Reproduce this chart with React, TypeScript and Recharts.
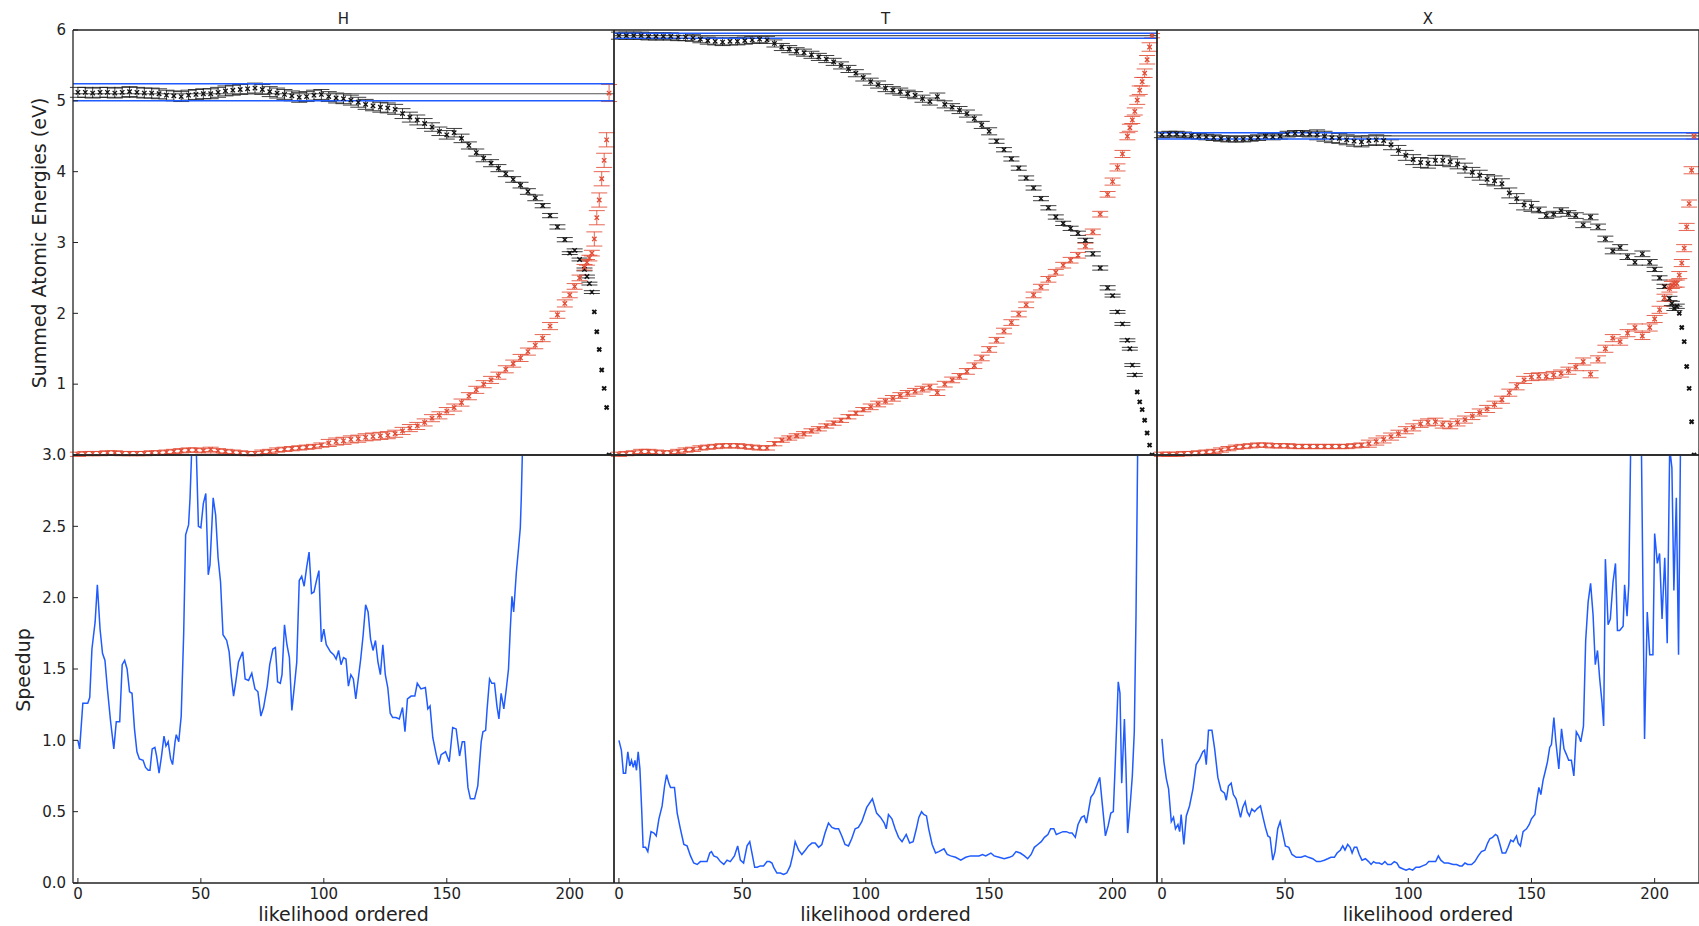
import React from 'react'
import { ComposedChart, Scatter, ErrorBar, Line, XAxis, YAxis, ReferenceLine } from 'recharts'

const FONT = '"DejaVu Sans", Verdana, sans-serif'
const INK = '#222'
const RED = '#e24a33'
const BLUE = '#1f5bff'
const BLACK = '#111'

const panelTitles = ['H', 'T', 'X']
const xTicks = [0, 50, 100, 150, 200]
const energyTicks = [0, 1, 2, 3, 4, 5, 6]
const speedupTicks = [0, 0.5, 1, 1.5, 2, 2.5, 3]

// positions along the likelihood ordering that were sampled (every 3rd up to 198, then the tail)
const sampleX = [
  0, 3, 6, 9, 12, 15, 18, 21, 24, 27,
  30, 33, 36, 39, 42, 45, 48, 51, 54, 57,
  60, 63, 66, 69, 72, 75, 78, 81, 84, 87,
  90, 93, 96, 99, 102, 105, 108, 111, 114, 117,
  120, 123, 126, 129, 132, 135, 138, 141, 144, 147,
  150, 153, 156, 159, 162, 165, 168, 171, 174, 177,
  180, 183, 186, 189, 192, 195, 198,
  200, 202, 204, 206, 207, 208, 209, 210, 211, 212, 213, 214, 215, 216,
]

// ---- H ----
const hEnergy = [
  5.12, 5.12, 5.11, 5.12, 5.12, 5.11, 5.12, 5.13, 5.12, 5.11,
  5.11, 5.10, 5.08, 5.07, 5.06, 5.08, 5.09, 5.10, 5.10, 5.12,
  5.14, 5.15, 5.16, 5.17, 5.18, 5.16, 5.13, 5.11, 5.09, 5.07,
  5.05, 5.06, 5.08, 5.09, 5.06, 5.04, 5.03, 5.01, 4.98, 4.95,
  4.93, 4.91, 4.90, 4.88, 4.82, 4.77, 4.73, 4.68, 4.63, 4.57,
  4.52, 4.55, 4.47, 4.37, 4.27, 4.19, 4.12, 4.05, 3.97, 3.89,
  3.81, 3.72, 3.63, 3.52, 3.38, 3.22, 3.04,
  2.85, 2.89, 2.76, 2.62, 2.52, 2.42, 2.30, 2.02, 1.74, 1.49, 1.20, 0.94, 0.67, 0,
]
const hEnergyErr = [
  0.07, 0.07, 0.07, 0.07, 0.07, 0.07, 0.07, 0.07, 0.07, 0.07,
  0.07, 0.07, 0.07, 0.07, 0.07, 0.07, 0.07, 0.07, 0.07, 0.07,
  0.07, 0.07, 0.07, 0.07, 0.07, 0.07, 0.07, 0.07, 0.07, 0.07,
  0.07, 0.07, 0.07, 0.07, 0.07, 0.07, 0.07, 0.07, 0.07, 0.07,
  0.07, 0.07, 0.07, 0.07, 0.07, 0.07, 0.07, 0.07, 0.06, 0.06,
  0.06, 0.06, 0.06, 0.05, 0.05, 0.05, 0.05, 0.05, 0.04, 0.04,
  0.04, 0.04, 0.04, 0.03, 0.03, 0.03, 0.03,
  0.02, 0.02, 0.02, 0.02, 0.02, 0.02, 0.02, 0, 0, 0, 0, 0, 0, 0,
]
const hAccum = [
  0.01, 0.02, 0.02, 0.02, 0.03, 0.03, 0.02, 0.02, 0.02, 0.02,
  0.03, 0.03, 0.04, 0.05, 0.06, 0.07, 0.07, 0.06, 0.08, 0.06,
  0.05, 0.04, 0.03, 0.02, 0.02, 0.04, 0.05, 0.07, 0.08, 0.09,
  0.10, 0.11, 0.12, 0.14, 0.17, 0.19, 0.20, 0.22, 0.23, 0.25,
  0.26, 0.27, 0.28, 0.30, 0.34, 0.38, 0.41, 0.46, 0.52, 0.56,
  0.62, 0.67, 0.74, 0.83, 0.92, 1.00, 1.06, 1.12, 1.21, 1.29,
  1.37, 1.46, 1.55, 1.65, 1.82, 1.98, 2.14,
  2.26, 2.38, 2.50, 2.65, 2.72, 2.78, 2.85, 3.05, 3.35, 3.60, 3.90, 4.16, 4.45, 5.11,
]
const hAccumErr = [
  0.03, 0.03, 0.03, 0.03, 0.03, 0.03, 0.03, 0.03, 0.03, 0.03,
  0.03, 0.03, 0.03, 0.03, 0.03, 0.03, 0.03, 0.03, 0.03, 0.03,
  0.03, 0.03, 0.03, 0.03, 0.03, 0.03, 0.03, 0.03, 0.03, 0.03,
  0.03, 0.03, 0.03, 0.03, 0.05, 0.05, 0.05, 0.05, 0.05, 0.05,
  0.05, 0.05, 0.05, 0.05, 0.05, 0.05, 0.05, 0.05, 0.05, 0.05,
  0.05, 0.05, 0.05, 0.05, 0.05, 0.05, 0.05, 0.05, 0.05, 0.05,
  0.05, 0.05, 0.05, 0.05, 0.05, 0.05, 0.05,
  0.04, 0.04, 0.04, 0.04, 0.04, 0.04, 0.04, 0.10, 0.10, 0.10, 0.10, 0.10, 0.10, 0.12,
]
const hTotal = [5.0, 5.1, 5.24]

// ---- T ----
const tEnergy = [
  5.92, 5.92, 5.92, 5.92, 5.91, 5.91, 5.91, 5.91, 5.90, 5.90,
  5.89, 5.87, 5.85, 5.84, 5.83, 5.84, 5.84, 5.85, 5.86, 5.87,
  5.86, 5.81, 5.76, 5.73, 5.70, 5.68, 5.65, 5.62, 5.59, 5.55,
  5.50, 5.45, 5.39, 5.33, 5.27, 5.23, 5.18, 5.15, 5.13, 5.10,
  5.08, 5.03, 4.99, 5.06, 4.95, 4.91, 4.87, 4.82, 4.75, 4.66,
  4.57, 4.43, 4.31, 4.18, 4.05, 3.91, 3.77, 3.62, 3.49, 3.36,
  3.27, 3.20, 3.13, 3.03, 2.84, 2.64, 2.36,
  2.25, 2.02, 1.85, 1.62, 1.50, 1.27, 1.13, 0.89, 0.75, 0.64, 0.49, 0.31, 0.14, 0,
]
const tEnergyErr = [
  0.05, 0.05, 0.05, 0.05, 0.05, 0.05, 0.05, 0.05, 0.05, 0.05,
  0.05, 0.05, 0.05, 0.05, 0.05, 0.05, 0.05, 0.05, 0.05, 0.05,
  0.05, 0.05, 0.05, 0.05, 0.05, 0.05, 0.05, 0.05, 0.05, 0.05,
  0.05, 0.05, 0.05, 0.05, 0.05, 0.05, 0.05, 0.05, 0.05, 0.05,
  0.05, 0.05, 0.05, 0.05, 0.05, 0.05, 0.05, 0.05, 0.05, 0.05,
  0.05, 0.03, 0.03, 0.03, 0.03, 0.03, 0.03, 0.03, 0.03, 0.03,
  0.03, 0.03, 0.03, 0.03, 0.03, 0.03, 0.03,
  0.02, 0.02, 0.02, 0.02, 0.02, 0.02, 0.02, 0, 0, 0, 0, 0, 0, 0,
]
const tAccum = [
  0.01, 0.02, 0.03, 0.05, 0.05, 0.04, 0.03, 0.03, 0.05, 0.07,
  0.08, 0.10, 0.11, 0.12, 0.13, 0.13, 0.13, 0.12, 0.11, 0.10,
  0.10, 0.16, 0.21, 0.24, 0.27, 0.30, 0.34, 0.37, 0.41, 0.45,
  0.49, 0.54, 0.59, 0.64, 0.68, 0.72, 0.76, 0.80, 0.84, 0.87,
  0.90, 0.93, 0.96, 0.88, 1.00, 1.06, 1.11, 1.18, 1.26, 1.37,
  1.49, 1.62, 1.75, 1.87, 1.99, 2.12, 2.26, 2.37, 2.48, 2.58,
  2.68, 2.75, 2.82, 2.95, 3.15, 3.40, 3.68,
  3.86, 4.06, 4.25, 4.50, 4.62, 4.73, 4.85, 5.01, 5.15, 5.27, 5.39, 5.58, 5.76, 5.92,
]
const tAccumErr = [
  0.03, 0.03, 0.03, 0.03, 0.03, 0.03, 0.03, 0.03, 0.03, 0.03,
  0.03, 0.03, 0.03, 0.03, 0.03, 0.03, 0.03, 0.03, 0.03, 0.03,
  0.03, 0.03, 0.03, 0.03, 0.03, 0.03, 0.03, 0.03, 0.03, 0.03,
  0.03, 0.03, 0.03, 0.03, 0.04, 0.04, 0.04, 0.04, 0.04, 0.04,
  0.04, 0.04, 0.04, 0.04, 0.04, 0.04, 0.04, 0.04, 0.04, 0.04,
  0.04, 0.04, 0.04, 0.04, 0.04, 0.04, 0.04, 0.04, 0.04, 0.04,
  0.04, 0.04, 0.04, 0.04, 0.04, 0.04, 0.04,
  0.05, 0.05, 0.05, 0.05, 0.05, 0.05, 0.05, 0.06, 0.06, 0.06, 0.06, 0.06, 0.06, 0.03,
]
const tTotal = [5.885, 5.92, 5.955]

// ---- X ----
const xEnergy = [
  4.52, 4.53, 4.53, 4.52, 4.51, 4.50, 4.49, 4.48, 4.47, 4.46,
  4.46, 4.46, 4.47, 4.48, 4.50, 4.49, 4.50, 4.53, 4.54, 4.54,
  4.53, 4.52, 4.50, 4.48, 4.47, 4.45, 4.43, 4.42, 4.44, 4.45,
  4.44, 4.38, 4.30, 4.23, 4.17, 4.13, 4.12, 4.16, 4.16, 4.14,
  4.11, 4.05, 3.99, 3.95, 3.89, 3.87, 3.83, 3.70, 3.62, 3.53,
  3.51, 3.46, 3.38, 3.40, 3.45, 3.41, 3.38, 3.25, 3.36, 3.22,
  3.05, 2.88, 2.93, 2.80, 2.72, 2.84, 2.72,
  2.62, 2.50, 2.38, 2.21, 2.14, 2.07, 2.10, 2.00, 1.80, 1.60, 1.25, 0.94, 0.47, 0,
]
const xEnergyErr = [
  0.04, 0.04, 0.04, 0.04, 0.04, 0.04, 0.04, 0.04, 0.04, 0.04,
  0.04, 0.04, 0.04, 0.04, 0.04, 0.04, 0.04, 0.04, 0.04, 0.04,
  0.04, 0.07, 0.07, 0.07, 0.07, 0.07, 0.07, 0.07, 0.07, 0.07,
  0.07, 0.07, 0.07, 0.07, 0.07, 0.07, 0.07, 0.07, 0.07, 0.07,
  0.07, 0.07, 0.07, 0.07, 0.07, 0.07, 0.07, 0.07, 0.07, 0.07,
  0.07, 0.04, 0.04, 0.04, 0.04, 0.04, 0.04, 0.04, 0.04, 0.04,
  0.04, 0.04, 0.04, 0.04, 0.04, 0.04, 0.04,
  0.03, 0.03, 0.03, 0.03, 0.03, 0.03, 0.03, 0, 0, 0, 0, 0, 0, 0,
]
const xAccum = [
  0.01, 0.01, 0.01, 0.02, 0.02, 0.03, 0.04, 0.05, 0.07, 0.09,
  0.11, 0.12, 0.13, 0.14, 0.14, 0.13, 0.13, 0.13, 0.12, 0.12,
  0.12, 0.12, 0.12, 0.12, 0.12, 0.12, 0.13, 0.14, 0.16, 0.19,
  0.22, 0.26, 0.30, 0.35, 0.39, 0.44, 0.46, 0.47, 0.43, 0.42,
  0.46, 0.50, 0.55, 0.60, 0.65, 0.71, 0.78, 0.88, 0.97, 1.06,
  1.10, 1.11, 1.11, 1.13, 1.15, 1.19, 1.24, 1.32, 1.14, 1.35,
  1.50, 1.65, 1.60, 1.72, 1.80, 1.68, 1.80,
  1.92, 2.05, 2.22, 2.35, 2.40, 2.42, 2.42, 2.54, 2.71, 2.92, 3.22, 3.55, 4.02, 4.50,
]
const xAccumErr = [
  0.03, 0.03, 0.03, 0.03, 0.03, 0.03, 0.03, 0.03, 0.03, 0.03,
  0.03, 0.03, 0.03, 0.03, 0.03, 0.03, 0.03, 0.03, 0.03, 0.03,
  0.03, 0.03, 0.03, 0.03, 0.03, 0.03, 0.03, 0.03, 0.05, 0.05,
  0.05, 0.05, 0.05, 0.05, 0.05, 0.05, 0.05, 0.05, 0.05, 0.05,
  0.05, 0.05, 0.05, 0.05, 0.05, 0.05, 0.05, 0.05, 0.05, 0.05,
  0.05, 0.05, 0.05, 0.05, 0.05, 0.05, 0.05, 0.05, 0.05, 0.05,
  0.05, 0.05, 0.05, 0.05, 0.05, 0.05, 0.05,
  0.05, 0.05, 0.05, 0.05, 0.05, 0.05, 0.05, 0.05, 0.05, 0.05, 0.05, 0.05, 0.05, 0.04,
]
const xTotal = [4.46, 4.505, 4.55]

// speedup curves as [position, speedup]
const hSpeedup: [number, number][] = [
  [0, 1.0], [0.7, 0.94], [2, 1.26], [4, 1.26], [4.8, 1.3], [5.7, 1.64], [7, 1.83], [7.9, 2.09], [9, 1.78], [10, 1.61],
  [11, 1.56], [12, 1.36], [13.3, 1.13], [14.6, 0.94], [15.6, 1.13], [17, 1.13], [18, 1.53], [19, 1.56], [20, 1.5], [21, 1.34],
  [22, 1.33], [23, 1.08], [24, 0.92], [25, 0.87], [26.5, 0.86], [27.5, 0.81], [28.6, 0.79], [29.3, 0.79], [30.2, 0.94], [31.3, 0.95],
  [32, 0.89], [33, 0.77], [34, 0.89], [35, 1.03], [35.8, 0.96], [36.7, 0.99], [37.7, 0.87], [38.5, 0.83], [39.5, 0.99], [40, 1.04],
  [41, 0.99], [42, 1.17], [43, 1.74], [43.8, 2.44], [45, 2.51], [45.6, 2.7], [46.5, 3.15], [48, 3.12], [49, 2.5], [50, 2.49],
  [51, 2.66], [52, 2.73], [53, 2.16], [53.7, 2.23], [55, 2.7], [56, 2.58], [57, 2.28], [58, 2.11], [59, 1.74], [60.5, 1.7],
  [61.5, 1.62], [62.3, 1.46], [63.3, 1.31], [64.2, 1.41], [65.3, 1.55], [67, 1.62], [68, 1.43], [69.4, 1.42], [70.7, 1.47], [72, 1.36],
  [73.2, 1.34], [74.4, 1.17], [75.5, 1.23], [77, 1.38], [78, 1.53], [79.3, 1.64], [80.3, 1.65], [81.2, 1.41], [82.3, 1.4], [83, 1.46],
  [84, 1.81], [85, 1.67], [86, 1.58], [87, 1.21], [88.2, 1.41], [89, 1.55], [90, 2.12], [91, 2.15], [92, 2.08], [93, 2.21],
  [94, 2.32], [95, 2.03], [96, 2.04], [97, 2.12], [98, 2.19], [99, 1.69], [100, 1.78], [101, 1.67], [102.7, 1.62], [104, 1.6],
  [105, 1.57], [106, 1.63], [107, 1.53], [108, 1.58], [109, 1.57], [110, 1.38], [111, 1.46], [112, 1.43], [113, 1.29], [114, 1.43],
  [115, 1.57], [116, 1.74], [117, 1.95], [118, 1.9], [119, 1.71], [120, 1.63], [121, 1.7], [122, 1.55], [123, 1.46], [124, 1.67],
  [125, 1.46], [126, 1.37], [127, 1.19], [128, 1.16], [129.3, 1.16], [130.7, 1.15], [132, 1.23], [133, 1.06], [134, 1.29], [135.5, 1.31],
  [137, 1.31], [138, 1.4], [139.5, 1.36], [141.3, 1.37], [142.3, 1.22], [143.2, 1.24], [144.3, 1.02], [145.7, 0.9], [146.7, 0.83], [147.7, 0.9],
  [149.5, 0.92], [151, 0.85], [152.4, 1.09], [153.8, 1.08], [155.2, 0.89], [156.3, 0.99], [157.2, 0.99], [158.6, 0.67], [159.6, 0.59], [161.3, 0.59],
  [162.6, 0.68], [164, 0.99], [164.7, 1.06], [165.8, 1.07], [166.4, 1.22], [167.4, 1.43], [168.3, 1.4], [169.4, 1.4], [170.4, 1.24], [171.2, 1.15],
  [172.1, 1.33], [173.2, 1.22], [174.2, 1.36], [175.1, 1.5], [175.8, 1.77], [176.5, 2.01], [177.2, 1.9], [178.3, 2.18], [179.2, 2.35], [179.9, 2.49],
  [180.3, 2.7], [181, 3.2], [184, 3.7], [190, 4.2], [200, 4.6], [208, 4.9], [216, 5.2],
]

const tSpeedup: [number, number][] = [
  [0, 1.0], [1, 0.93], [1.8, 0.77], [2.7, 0.77], [3.6, 0.92], [4.4, 0.82], [5.1, 0.86], [5.8, 0.81], [6.5, 0.86], [7.1, 0.79],
  [7.8, 0.92], [8.5, 0.8], [9.2, 0.52], [9.8, 0.25], [10.8, 0.25], [11.7, 0.22], [13, 0.36], [14.2, 0.35], [15.1, 0.33], [16.2, 0.45],
  [17.5, 0.54], [18.5, 0.68], [19.3, 0.76], [20.2, 0.7], [20.9, 0.67], [22.5, 0.67], [23.6, 0.49], [24.9, 0.38], [26.3, 0.27], [27.6, 0.26],
  [29, 0.19], [30.3, 0.14], [31.7, 0.13], [33, 0.15], [34.6, 0.15], [35.7, 0.15], [36.8, 0.21], [37.5, 0.22], [38.4, 0.19], [39.8, 0.18],
  [41.1, 0.15], [42.5, 0.13], [43.8, 0.16], [45.1, 0.15], [46.8, 0.19], [48.1, 0.26], [49.2, 0.16], [50.5, 0.14], [51.9, 0.26], [53, 0.29],
  [53.9, 0.21], [55, 0.11], [56, 0.11], [57.3, 0.12], [58.6, 0.12], [60, 0.15], [61, 0.15], [62, 0.14], [62.7, 0.11], [64, 0.07],
  [65.4, 0.07], [66.7, 0.06], [68, 0.07], [69.4, 0.12], [70.5, 0.2], [71.4, 0.29], [72.8, 0.23], [74.1, 0.2], [75.5, 0.23], [76.8, 0.26],
  [78.2, 0.28], [79.5, 0.28], [80.9, 0.25], [82.2, 0.27], [83.5, 0.35], [84.9, 0.42], [86.3, 0.39], [87.6, 0.38], [89, 0.38], [90.3, 0.33],
  [91.6, 0.27], [93, 0.26], [94.3, 0.31], [95.7, 0.38], [97, 0.39], [98.4, 0.43], [100.4, 0.53], [102.7, 0.59], [104.4, 0.49], [106, 0.46],
  [107.5, 0.42], [108.3, 0.38], [109.2, 0.48], [110.6, 0.45], [111.9, 0.38], [113.3, 0.32], [114.7, 0.29], [116.4, 0.34], [117.8, 0.28], [119.2, 0.29],
  [120.5, 0.38], [121.5, 0.46], [122.6, 0.5], [123.5, 0.48], [124.6, 0.47], [125.5, 0.38], [126.9, 0.27], [128.3, 0.21], [129.6, 0.22], [131.7, 0.24],
  [133, 0.2], [134.4, 0.19], [136.4, 0.18], [138.5, 0.16], [140.5, 0.18], [142.5, 0.19], [143.9, 0.19], [145.9, 0.19], [147.3, 0.2], [148.6, 0.19],
  [150.7, 0.21], [152, 0.19], [154, 0.18], [156.1, 0.17], [158.2, 0.18], [159.5, 0.19], [160.9, 0.22], [162.6, 0.21], [164.3, 0.19], [165.6, 0.17],
  [167, 0.2], [168.3, 0.25], [169.7, 0.27], [171.1, 0.29], [172.4, 0.32], [173.8, 0.34], [174.9, 0.38], [176.2, 0.38], [177.2, 0.34], [178.5, 0.35],
  [179.9, 0.36], [181.3, 0.36], [182.6, 0.35], [183.6, 0.35], [184.9, 0.32], [186, 0.41], [187.4, 0.46], [188.5, 0.47], [189.4, 0.42], [190.1, 0.49],
  [191.2, 0.6], [192.4, 0.63], [193.5, 0.68], [194.8, 0.74], [195.8, 0.56], [197.1, 0.33], [198.2, 0.4], [199.3, 0.49], [200.3, 0.5], [201, 0.8],
  [202.3, 1.41], [203, 1.33], [203.7, 0.7], [204.8, 1.15], [205.4, 0.82], [206.1, 0.35], [207.1, 0.54], [208, 0.75], [208.8, 1.06], [209.5, 1.88],
  [210.2, 3.1], [212, 3.6], [216, 4.1],
]

const xSpeedup: [number, number][] = [
  [0, 1.01], [0.8, 0.85], [1.8, 0.73], [2.7, 0.66], [3.8, 0.43], [4.7, 0.46], [5.5, 0.38], [6.5, 0.41], [7.2, 0.36], [7.8, 0.48],
  [8.9, 0.27], [9.9, 0.47], [11.2, 0.54], [12.6, 0.66], [13.9, 0.83], [15.3, 0.87], [16.6, 0.92], [17.3, 0.93], [18, 0.83], [18.9, 1.07],
  [20.3, 1.07], [21.4, 0.94], [22.7, 0.74], [24, 0.65], [25.4, 0.63], [26.1, 0.58], [27, 0.68], [28.1, 0.7], [29, 0.62], [30.1, 0.59],
  [31.1, 0.52], [31.9, 0.46], [32.8, 0.53], [33.8, 0.57], [34.6, 0.5], [35.5, 0.47], [36.5, 0.52], [37.6, 0.5], [38.6, 0.52], [40, 0.54],
  [40.9, 0.47], [42, 0.39], [43, 0.33], [43.9, 0.32], [45, 0.16], [45.9, 0.22], [47, 0.38], [48, 0.43], [49, 0.35], [50.1, 0.26],
  [51.5, 0.25], [52.8, 0.2], [54.5, 0.18], [56.5, 0.18], [58.1, 0.19], [59.5, 0.18], [61.2, 0.17], [62.8, 0.15], [64.2, 0.15], [65.9, 0.16],
  [67.3, 0.17], [68.6, 0.18], [70, 0.18], [71.1, 0.21], [72.4, 0.23], [73.4, 0.26], [74.3, 0.23], [75.4, 0.27], [76.4, 0.25], [77.2, 0.21],
  [78.1, 0.25], [79.1, 0.25], [80.1, 0.2], [81.2, 0.16], [82.6, 0.17], [83.9, 0.15], [84.9, 0.13], [85.9, 0.15], [86.9, 0.14], [88.2, 0.14],
  [89.3, 0.13], [90.5, 0.15], [91.6, 0.13], [93, 0.13], [94.3, 0.15], [95.4, 0.14], [96.4, 0.11], [97.7, 0.1], [99.1, 0.09], [100.4, 0.1],
  [101.8, 0.09], [103.1, 0.11], [104.5, 0.11], [105.8, 0.12], [107.2, 0.13], [108.3, 0.15], [109.5, 0.15], [111.1, 0.15], [112.2, 0.19], [113.2, 0.16],
  [114.6, 0.14], [116.2, 0.14], [118.2, 0.13], [119.6, 0.13], [120.9, 0.12], [121.9, 0.12], [123, 0.14], [124.1, 0.13], [125.7, 0.13], [127, 0.15],
  [128.4, 0.19], [129.7, 0.22], [131.1, 0.23], [132.2, 0.28], [133.1, 0.31], [134.2, 0.32], [135.4, 0.34], [136.2, 0.33], [137.2, 0.27], [138.1, 0.21],
  [139.5, 0.21], [140.5, 0.25], [141.6, 0.3], [142.6, 0.29], [143.9, 0.33], [144.6, 0.28], [145.5, 0.26], [146.6, 0.36], [148, 0.38], [149.1, 0.41],
  [150, 0.45], [151.4, 0.48], [152, 0.56], [153, 0.67], [153.8, 0.62], [154.7, 0.72], [155.7, 0.79], [156.5, 0.85], [157.4, 0.95], [158.1, 0.97],
  [159.1, 1.16], [159.9, 0.99], [161.1, 0.8], [162.2, 1.08], [163.2, 0.94], [164.2, 0.9], [165.1, 0.86], [166.2, 0.86], [167.2, 0.75], [168.2, 1.06],
  [169.2, 1.03], [170, 0.99], [171.1, 1.1], [172, 1.7], [173, 1.97], [174, 2.1], [175, 1.88], [175.9, 1.53], [176.8, 1.63], [177.7, 1.43],
  [178.6, 1.27], [179.3, 1.1], [180, 2.27], [181.1, 1.81], [182, 1.85], [183.1, 2.11], [184.1, 2.24], [184.9, 1.77], [185.8, 1.77], [187.2, 1.8],
  [187.8, 2.09], [188.8, 1.87], [189.5, 2.09], [190.3, 3.1], [192, 3.6], [194.6, 3.1], [195.9, 1.01], [197, 1.9], [198, 1.6], [199.3, 1.6],
  [200, 2.45], [201.1, 2.24], [202, 2.31], [203, 1.85], [204.1, 2.28], [205.1, 1.68], [206.1, 3.05], [207, 2.91], [207.8, 2.05], [208.8, 2.7],
  [209.7, 1.6], [210.5, 3.1], [212, 3.5], [216, 3.9],
]

// page layout (plot rectangles in px)
const colLeft = [73, 614, 1157]
const colWidth = [541, 543, 542]
const rowTop = [30, 455]
const rowHeight = [425, 428]
const PAD = 60
// every axis reserves 1px, so the margins give that pixel back
const M = PAD - 1
const X_DOMAIN: [number, number] = [-2, 218]

const axisLine = { stroke: INK, strokeWidth: 1.3 }
const tickLine = { stroke: INK, strokeWidth: 1 }
const tickFont = { fontSize: 15, fill: INK, fontFamily: FONT }

function crossMarker(color: string, r = 2.2, w = 1.3) {
  return (props: any) => {
    const { cx, cy } = props
    if (cx == null || cy == null) return <g />
    return (
      <path
        d={`M${cx - r},${cy - r}L${cx + r},${cy + r}M${cx - r},${cy + r}L${cx + r},${cy - r}`}
        stroke={color}
        strokeWidth={w}
        fill="none"
      />
    )
  }
}

interface EnergyProps {
  col: number
  energy: number[]
  energyErr: number[]
  accum: number[]
  accumErr: number[]
  total: number[]
}

function EnergyPanel({ col, energy, energyErr, accum, accumErr, total }: EnergyProps) {
  const width = colWidth[col]
  const height = rowHeight[0]
  const remaining = sampleX.map((x, i) => ({ x, y: energy[i], e: energyErr[i] }))
  const gathered = sampleX.map((x, i) => ({ x, y: accum[i], e: accumErr[i] }))
  // points without a measurable spread are drawn as plain markers
  const remainingBand = remaining.filter((p) => p.e > 0)
  const remainingBare = remaining.filter((p) => p.e === 0)

  return (
    <div style={{ position: 'absolute', left: colLeft[col] - PAD, top: rowTop[0] - PAD }}>
      <ComposedChart width={width + 2 * PAD} height={height + 2 * PAD} margin={{ top: M, right: M, bottom: M, left: M }}>
        <XAxis type="number" dataKey="x" domain={X_DOMAIN} ticks={xTicks} allowDataOverflow height={1}
          tick={false} tickSize={-5} axisLine={axisLine} tickLine={tickLine} />
        <XAxis xAxisId="top" orientation="top" type="number" dataKey="x" domain={X_DOMAIN} ticks={xTicks} allowDataOverflow
          height={1} tick={false} tickSize={-5} axisLine={axisLine} tickLine={tickLine} />
        <YAxis type="number" dataKey="y" domain={[0, 6]} ticks={energyTicks} allowDataOverflow width={1}
          tick={col === 0 ? tickFont : false} tickFormatter={(v: number) => (v === 0 ? '' : String(v))}
          tickSize={-5} tickMargin={12} axisLine={axisLine} tickLine={tickLine} />
        <YAxis yAxisId="right" orientation="right" type="number" domain={[0, 6]} ticks={energyTicks} allowDataOverflow
          width={1} tick={false} tickSize={-5} axisLine={axisLine} tickLine={tickLine} />

        <Scatter data={remainingBand} shape={crossMarker(BLACK)} isAnimationActive={false}>
          <ErrorBar dataKey="e" direction="y" width={8} stroke={BLACK} strokeWidth={1} strokeOpacity={0.8} />
        </Scatter>
        <Scatter data={remainingBare} shape={crossMarker(BLACK, 2, 2)} isAnimationActive={false} />
        <Scatter data={gathered} shape={crossMarker(RED)} isAnimationActive={false}>
          <ErrorBar dataKey="e" direction="y" width={8} stroke={RED} strokeWidth={1} strokeOpacity={0.85} />
        </Scatter>

        <ReferenceLine y={total[0]} stroke={BLUE} strokeWidth={1.5} />
        <ReferenceLine y={total[1]} stroke="#555" strokeWidth={1.2} />
        <ReferenceLine y={total[2]} stroke={BLUE} strokeWidth={1.5} />
      </ComposedChart>
    </div>
  )
}

function SpeedupPanel({ col, series }: { col: number; series: [number, number][] }) {
  const width = colWidth[col]
  const height = rowHeight[1]
  const points = series.map(([x, y]) => ({ x, y }))

  return (
    <div style={{ position: 'absolute', left: colLeft[col] - PAD, top: rowTop[1] - PAD }}>
      <ComposedChart width={width + 2 * PAD} height={height + 2 * PAD} margin={{ top: M, right: M, bottom: M, left: M }}>
        <XAxis type="number" dataKey="x" domain={X_DOMAIN} ticks={xTicks} allowDataOverflow height={1}
          tick={tickFont} tickSize={-5} tickMargin={10} axisLine={axisLine} tickLine={tickLine} />
        <XAxis xAxisId="top" orientation="top" type="number" dataKey="x" domain={X_DOMAIN} ticks={xTicks} allowDataOverflow
          height={1} tick={false} tickSize={-5} axisLine={axisLine} tickLine={tickLine} />
        <YAxis type="number" dataKey="y" domain={[0, 3]} ticks={speedupTicks} allowDataOverflow width={1}
          tick={col === 0 ? tickFont : false} tickFormatter={(v: number) => v.toFixed(1)}
          tickSize={-5} tickMargin={12} axisLine={axisLine} tickLine={tickLine} />
        <YAxis yAxisId="right" orientation="right" type="number" domain={[0, 3]} ticks={speedupTicks} allowDataOverflow
          width={1} tick={false} tickSize={-5} axisLine={axisLine} tickLine={tickLine} />

        <Line data={points} dataKey="y" type="linear" stroke={BLUE} strokeWidth={1.5} dot={false} isAnimationActive={false} />
      </ComposedChart>
    </div>
  )
}

export default function App() {
  return (
    <div style={{ position: 'absolute', left: 0, top: 0, width: 1699, height: 926, overflow: 'hidden', background: '#fff', fontFamily: FONT }}>
      <EnergyPanel col={0} energy={hEnergy} energyErr={hEnergyErr} accum={hAccum} accumErr={hAccumErr} total={hTotal} />
      <EnergyPanel col={1} energy={tEnergy} energyErr={tEnergyErr} accum={tAccum} accumErr={tAccumErr} total={tTotal} />
      <EnergyPanel col={2} energy={xEnergy} energyErr={xEnergyErr} accum={xAccum} accumErr={xAccumErr} total={xTotal} />
      <SpeedupPanel col={0} series={hSpeedup} />
      <SpeedupPanel col={1} series={tSpeedup} />
      <SpeedupPanel col={2} series={xSpeedup} />

      {/* titles and axis captions */}
      <svg width={1699} height={926} style={{ position: 'absolute', left: 0, top: 0, pointerEvents: 'none' }}>
        {panelTitles.map((t, i) => (
          <text key={t} x={colLeft[i] + colWidth[i] / 2} y={24} textAnchor="middle" fontSize={15} fill={INK} fontFamily={FONT}>
            {t}
          </text>
        ))}
        {panelTitles.map((t, i) => (
          <text key={`xl-${t}`} x={colLeft[i] + colWidth[i] / 2} y={921} textAnchor="middle" fontSize={19} fill={INK} fontFamily={FONT}>
            likelihood ordered
          </text>
        ))}
        <text transform="translate(46,243) rotate(-90)" textAnchor="middle" fontSize={19} fill={INK} fontFamily={FONT}>
          Summed Atomic Energies (eV)
        </text>
        <text transform="translate(30,670) rotate(-90)" textAnchor="middle" fontSize={19} fill={INK} fontFamily={FONT}>
          Speedup
        </text>
      </svg>
    </div>
  )
}
